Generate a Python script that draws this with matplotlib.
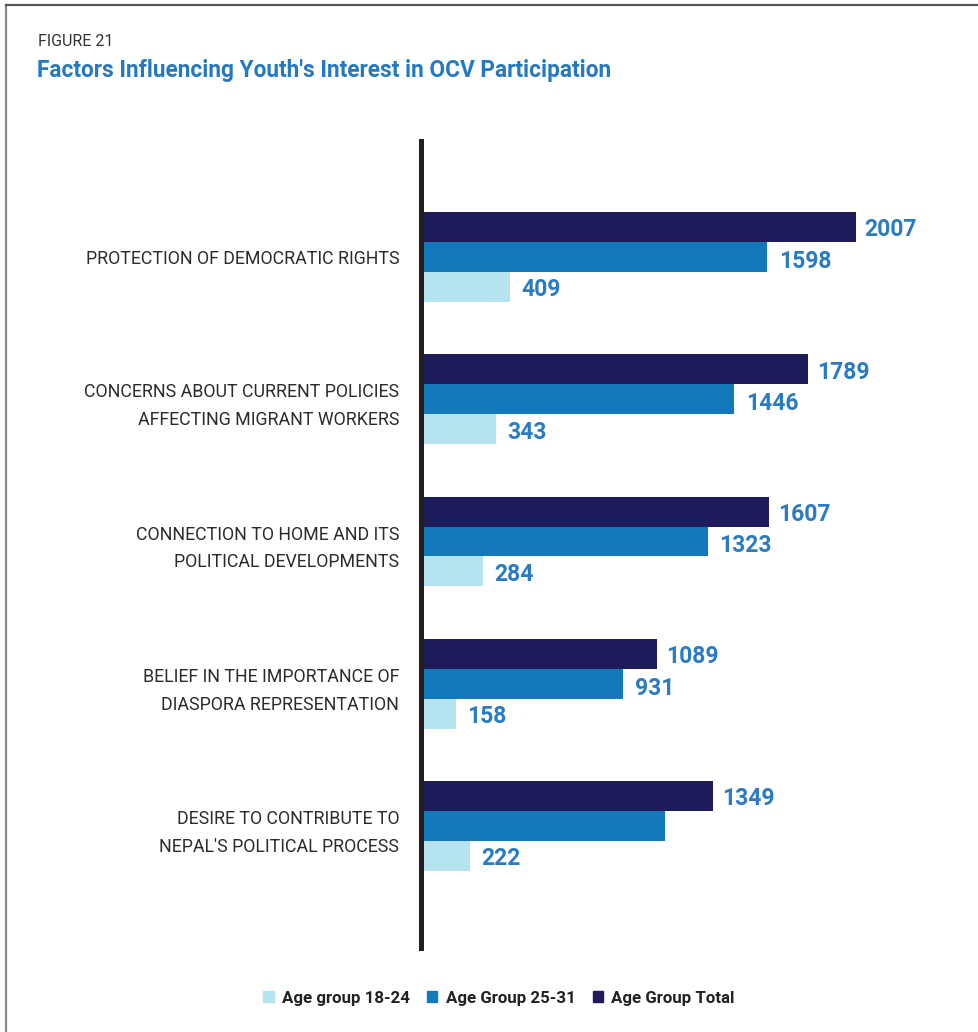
import matplotlib.pyplot as plt
from matplotlib.lines import Line2D
from matplotlib.patches import Patch
import numpy as np

plt.rcParams['font.family'] = ['Roboto', 'DejaVu Sans']

# data
categories = [
    "PROTECTION OF DEMOCRATIC RIGHTS",
    "CONCERNS ABOUT CURRENT POLICIES\nAFFECTING MIGRANT WORKERS",
    "CONNECTION TO HOME AND ITS\nPOLITICAL DEVELOPMENTS",
    "BELIEF IN THE IMPORTANCE OF\nDIASPORA REPRESENTATION",
    "DESIRE TO CONTRIBUTE TO\nNEPAL'S POLITICAL PROCESS",
]
age_18_24 = [409, 343, 284, 158, 222]
age_25_31 = [1598, 1446, 1323, 931, 1127]
age_total = [2007, 1789, 1607, 1089, 1349]
# the 25-31 bar of the last group carries no value label
show_25_31 = [True, True, True, True, False]

c_light = "#b6e3f0"
c_mid = "#1479bb"
c_dark = "#1e1b5b"
c_label = "#2a7bc4"

W, H = 979, 1032
fig = plt.figure(figsize=(W / 100, H / 100), dpi=100)

# frame lines on the left and top
fig.add_artist(Line2D([6.5 / W, 6.5 / W], [0, 1 - 4.5 / H], transform=fig.transFigure,
                      color="#8a8a8a", lw=1.6))
fig.add_artist(Line2D([6.5 / W, 1], [1 - 4.5 / H, 1 - 4.5 / H], transform=fig.transFigure,
                      color="#555555", lw=1.6))

fig.text(38 / W, 1 - 42 / H, "FIGURE 21", fontsize=11.5, color="#333333",
         va="center", ha="left")
fig.text(37 / W, 1 - 70 / H, "Factors Influencing Youth's Interest in OCV Participation",
         fontsize=16.3, color="#2479c2", fontweight="bold", va="center", ha="left")

# axes: spine at x=421.5px, top 141px, bottom 948px
left = 421.5 / W
xmax = 2400
scale = (858 - 424) / 2007  # px per unit
width = xmax * scale / W
top_px, bot_px = 141, 948
ax = fig.add_axes([left, 1 - bot_px / H, width, (bot_px - top_px) / H])

step = 142.3
y = np.arange(len(categories))
h = 30 / step
ax.barh(y - h, age_total, height=h, color=c_dark, zorder=2)
ax.barh(y, age_25_31, height=h, color=c_mid, zorder=2)
ax.barh(y + h, age_18_24, height=h, color=c_light, zorder=2)

pad = 9 / scale
for i in range(len(categories)):
    ax.text(age_total[i] + pad, y[i] - h + 0.02, str(age_total[i]), color=c_label,
            fontsize=16.5, fontweight="bold", va="center", ha="left")
    if show_25_31[i]:
        ax.text(age_25_31[i] + pad * 1.3, y[i] + 0.03, str(age_25_31[i]), color=c_label,
                fontsize=16.5, fontweight="bold", va="center", ha="left")
    ax.text(age_18_24[i] + pad * 1.3, y[i] + h + 0.02, str(age_18_24[i]), color=c_label,
            fontsize=16.5, fontweight="bold", va="center", ha="left")

ax.set_xlim(0, xmax)
ax.set_ylim((bot_px - 826) / step + 4, -(257 - top_px) / step)
ax.set_yticks(y)
ax.set_yticklabels(categories, fontsize=12.8, color="#2b2b2b", linespacing=1.7)
ax.tick_params(axis="y", length=0, pad=16)
ax.set_xticks([])
for s in ["top", "right", "bottom"]:
    ax.spines[s].set_visible(False)
ax.spines["left"].set_linewidth(3.6)
ax.spines["left"].set_color("#231f20")
ax.spines["left"].set_zorder(3)
ax.patch.set_alpha(0)

handles = [Patch(color=c_light, label="Age group 18-24"),
           Patch(color=c_mid, label="Age Group 25-31"),
           Patch(color=c_dark, label="Age Group Total")]
fig.legend(handles=handles, loc="center", bbox_to_anchor=(499 / W, 1 - 998 / H),
           ncol=3, frameon=False, handlelength=0.6, handleheight=0.6,
           handletextpad=0.5, columnspacing=1.0,
           prop={"size": 12.2, "weight": "bold"}, labelcolor="#222222")

fig.savefig("out.png", dpi=100)
